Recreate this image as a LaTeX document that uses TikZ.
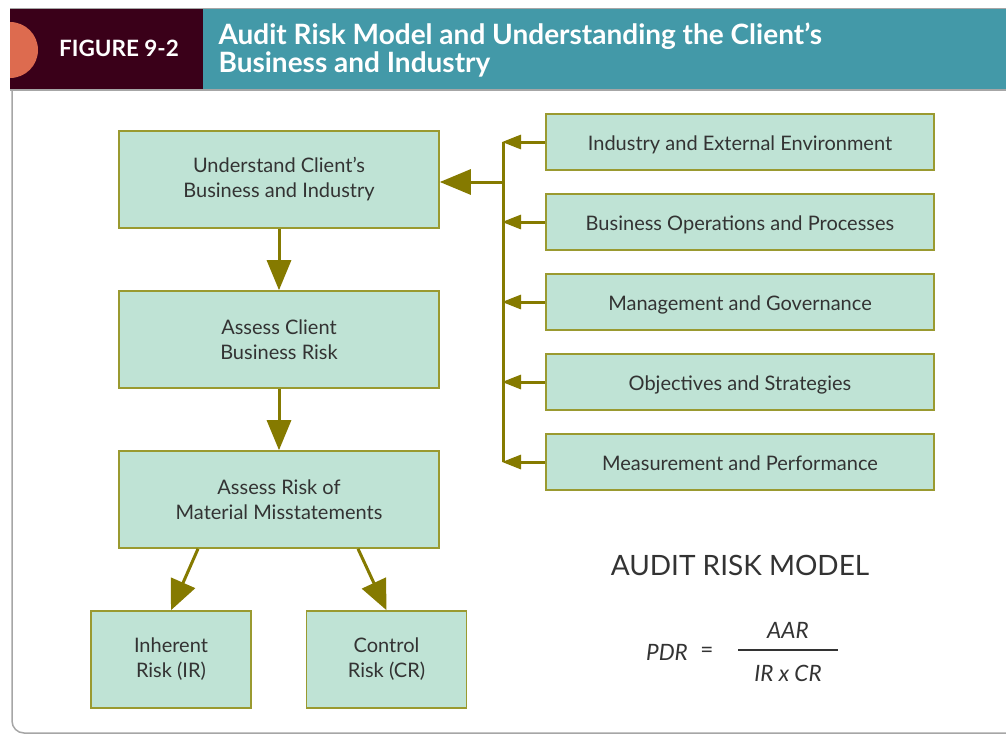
\documentclass[tikz,border=0pt]{standalone}
\usepackage{fontspec}
\setmainfont{Lato}
\usetikzlibrary{arrows.meta}
\definecolor{caja}{HTML}{BFE3D5}
\definecolor{borde}{HTML}{9A9A30}
\definecolor{oliva}{HTML}{857A00}
\definecolor{vino}{HTML}{3A0019}
\definecolor{azul}{HTML}{4399A8}
\definecolor{naranja}{HTML}{DD6B4F}
\definecolor{texto}{HTML}{333333}
\begin{document}
\begin{tikzpicture}[x=1pt, y=-1pt,
  caja/.style={draw=borde, fill=caja, line width=1.6pt, text=texto, align=center,
    inner sep=0pt, font=\fontsize{20}{25}\selectfont},
  grande/.style={caja, minimum width=320pt, minimum height=97pt},
  chica/.style={caja, minimum width=160pt, minimum height=97pt},
  lateral/.style={caja, minimum width=388pt, minimum height=56pt,
    text height=17pt, text depth=0pt},
  flecha/.style={draw=oliva, line width=3pt, -{Triangle[length=30pt,width=24pt]}},
  flechita/.style={draw=oliva, line width=3pt, -{Triangle[length=19pt,width=14pt]}}]
  \useasboundingbox (0,0) rectangle (1006,736);
  % la cabecera
  \fill[vino] (10,9) rectangle (203,90);
  \fill[azul] (203,9) rectangle (1006,90);
  \begin{scope}
    \clip (10,9) rectangle (60,90);
    \fill[naranja] (10,50) circle (28);
  \end{scope}
  \draw[gray!70, line width=1.5pt] (10,8.5) -- (1006,8.5);
  \draw[gray!70, line width=1.5pt] (10,90) -- (1006,90);
  \draw[gray!70, line width=1.5pt, rounded corners=12pt] (12,90) -- (12,733) -- (1006,733);
  \node[text=white, font=\fontsize{22.5}{25}\bfseries\selectfont] (fig) at (119,48) {FIGURE 9-2};
  \node[text=white, anchor=west, align=left, font=\fontsize{28}{28}\bfseries\selectfont] (titulo)
    at (215,50) {Audit Risk Model and Understanding the Client’s\\Business and Industry};
  % las cajas de la izquierda
  \node[grande] (und) at (279,179.5) {Understand Client’s\\Business and Industry};
  \node[grande] (acr) at (279,339.5) {Assess Client\\Business Risk};
  \node[grande] (arm) at (279,499.5) {Assess Risk of\\Material Misstatements};
  \node[chica] (ir) at (171,659.5) {Inherent\\Risk (IR)};
  \node[chica] (cr) at (386.5,659.5) {Control\\Risk (CR)};
  % las cajas de la derecha
  \node[lateral] (ind) at (740,142) {Industry and External Environment};
  \node[lateral] (ops) at (740,222) {Business Operations and Processes};
  \node[lateral] (gob) at (740,302) {Management and Governance};
  \node[lateral] (obj) at (740,382) {Objectives and Strategies};
  \node[lateral] (med) at (740,462) {Measurement and Performance};
  % las flechas
  \coordinate (bus) at (503,182);
  \draw[oliva, line width=3pt] (ind.west -| bus) -- (med.west -| bus);
  \draw[flecha, -{Triangle[length=31pt,width=25pt]}] (bus) -- (bus -| und.east);
  \foreach \n in {ind,ops,gob,obj,med}
    \draw[flechita] (\n.west) -- ([xshift=-1pt]\n.west -| bus);
  \draw[flecha] (und.south) -- (acr.north);
  \draw[flecha] (acr.south) -- (arm.north);
  \draw[flecha, -{Triangle[length=30pt,width=26pt]}] ([xshift=-81pt]arm.south) -- (ir.north);
  \draw[flecha, -{Triangle[length=30pt,width=26pt]}] ([xshift=79pt]arm.south) -- (cr.north);
  % el modelo
  \node[text=texto, font=\fontsize{28}{30}\selectfont] (modelo) at (740,565) {AUDIT RISK MODEL};
  \node[text=texto, font=\fontsize{22.5}{24}\itshape\selectfont] (pdr) at (667,652) {PDR};
  \node[text=texto, font=\fontsize{22.5}{24}\selectfont] (igual) at (707,652) {=};
  \node[text=texto, font=\fontsize{22.5}{24}\itshape\selectfont] (aar) at (788,630) {AAR};
  \node[text=texto, font=\fontsize{22.5}{24}\itshape\selectfont] (irc) at (788,673) {IR x CR};
  \draw[texto, line width=1.4pt] (738,650) -- (838,650);
\end{tikzpicture}
\end{document}
